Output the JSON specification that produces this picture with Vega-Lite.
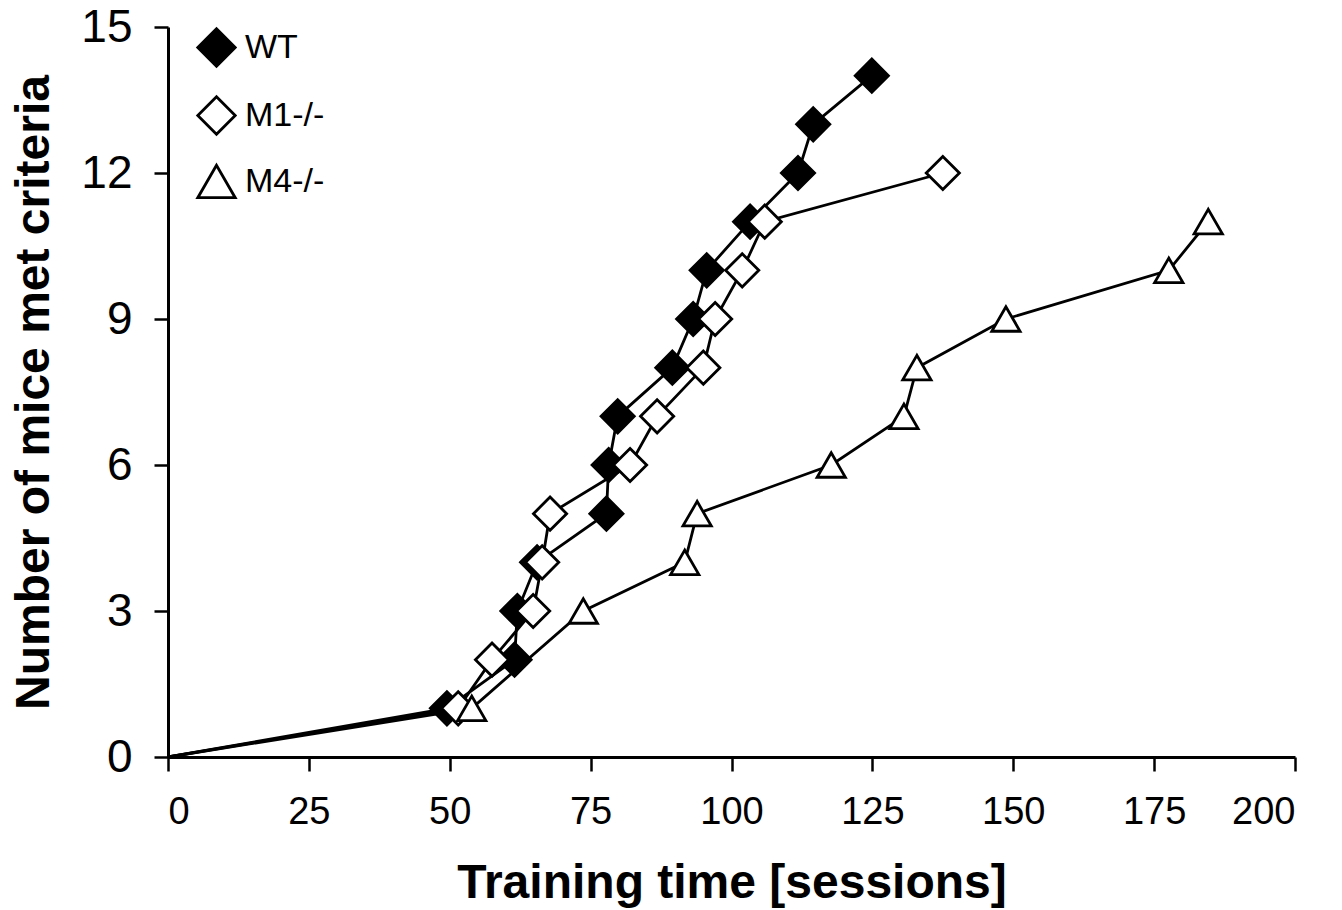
{
  "$schema": "https://vega.github.io/schema/vega-lite/v6.json",
  "width": 1127,
  "height": 730,
  "autosize": {"type": "none"},
  "padding": {"left": 168, "top": 27, "right": 47, "bottom": 153},
  "background": "white",
  "config": {
    "view": {"stroke": null},
    "font": "Liberation Sans",
    "axis": {"grid": false, "domainColor": "black", "domainWidth": 3, "tickColor": "black", "tickWidth": 2.5, "tickSize": 14, "labelColor": "black", "titleColor": "black", "labelFont": "Liberation Sans", "titleFont": "Liberation Sans", "titleFontWeight": "bold"},
    "legend": {"labelFontSize": 34, "labelFont": "Liberation Sans", "labelColor": "black", "symbolSize": 1400, "symbolStrokeWidth": 2.5}
  },
  "datasets": {
    "curves": [
      {"group": "WT", "sessions": 0, "mice": 0},
      {"group": "WT", "sessions": 49.5, "mice": 1},
      {"group": "WT", "sessions": 61.5, "mice": 2},
      {"group": "WT", "sessions": 62, "mice": 3},
      {"group": "WT", "sessions": 65.5, "mice": 4},
      {"group": "WT", "sessions": 77.8, "mice": 5},
      {"group": "WT", "sessions": 78.2, "mice": 6},
      {"group": "WT", "sessions": 79.8, "mice": 7},
      {"group": "WT", "sessions": 89.5, "mice": 8},
      {"group": "WT", "sessions": 93.2, "mice": 9},
      {"group": "WT", "sessions": 95.6, "mice": 10},
      {"group": "WT", "sessions": 103.3, "mice": 11},
      {"group": "WT", "sessions": 111.8, "mice": 12},
      {"group": "WT", "sessions": 114.5, "mice": 13},
      {"group": "WT", "sessions": 124.9, "mice": 14},
      {"group": "M1-/-", "sessions": 0, "mice": 0},
      {"group": "M1-/-", "sessions": 51.5, "mice": 1},
      {"group": "M1-/-", "sessions": 57.5, "mice": 2},
      {"group": "M1-/-", "sessions": 64.8, "mice": 3},
      {"group": "M1-/-", "sessions": 66.4, "mice": 4},
      {"group": "M1-/-", "sessions": 67.8, "mice": 5},
      {"group": "M1-/-", "sessions": 82, "mice": 6},
      {"group": "M1-/-", "sessions": 86.8, "mice": 7},
      {"group": "M1-/-", "sessions": 95, "mice": 8},
      {"group": "M1-/-", "sessions": 97.1, "mice": 9},
      {"group": "M1-/-", "sessions": 101.9, "mice": 10},
      {"group": "M1-/-", "sessions": 105.9, "mice": 11},
      {"group": "M1-/-", "sessions": 137.5, "mice": 12},
      {"group": "M4-/-", "sessions": 0, "mice": 0},
      {"group": "M4-/-", "sessions": 53.9, "mice": 1},
      {"group": "M4-/-", "sessions": 73.7, "mice": 3},
      {"group": "M4-/-", "sessions": 91.7, "mice": 4},
      {"group": "M4-/-", "sessions": 93.9, "mice": 5},
      {"group": "M4-/-", "sessions": 117.7, "mice": 6},
      {"group": "M4-/-", "sessions": 130.6, "mice": 7},
      {"group": "M4-/-", "sessions": 132.9, "mice": 8},
      {"group": "M4-/-", "sessions": 148.7, "mice": 9},
      {"group": "M4-/-", "sessions": 177.6, "mice": 10},
      {"group": "M4-/-", "sessions": 184.6, "mice": 11}
    ]
  },
  "data": {"name": "curves"},
  "encoding": {
    "x": {
      "field": "sessions", "type": "quantitative",
      "scale": {"domain": [0, 200], "nice": false},
      "axis": {"values": [0, 25, 50, 75, 100, 125, 150, 175, 200], "title": "Training time [sessions]", "labelFontSize": 38, "labelPadding": 22, "titleFontSize": 48, "titlePadding": 28}
    },
    "y": {
      "field": "mice", "type": "quantitative",
      "scale": {"domain": [0, 15], "nice": false},
      "axis": {"values": [0, 3, 6, 9, 12, 15], "title": "Number of mice met criteria", "labelFontSize": 46, "labelPadding": 22, "titleFontSize": 48, "titlePadding": 22}
    }
  },
  "layer": [
    {
      "mark": {"type": "line", "color": "black", "strokeWidth": 2.8},
      "encoding": {"detail": {"field": "group", "type": "nominal"}}
    },
    {
      "transform": [{"filter": "datum.mice > 0 && datum.group != 'M4-/-'"}],
      "mark": {"type": "point", "filled": true, "strokeWidth": 2.8, "opacity": 1, "size": 1100},
      "encoding": {
        "shape": {
          "field": "group", "type": "nominal",
          "scale": {"domain": ["WT", "M1-/-", "M4-/-"], "range": ["diamond", "diamond", "triangle-up"]},
          "legend": {"title": null, "orient": "none", "legendX": 28, "legendY": 0, "padding": 0, "labelOffset": 8, "rowPadding": 19, "symbolSize": 1400, "symbolStrokeWidth": 2.8}
        },
        "fill": {
          "field": "group", "type": "nominal",
          "scale": {"domain": ["WT", "M1-/-", "M4-/-"], "range": ["black", "white", "white"]},
          "legend": {"title": null, "orient": "none", "legendX": 28, "legendY": 0, "padding": 0, "labelOffset": 8, "rowPadding": 19, "symbolSize": 1400, "symbolStrokeWidth": 2.8}
        },
        "stroke": {
          "field": "group", "type": "nominal",
          "scale": {"domain": ["WT", "M1-/-", "M4-/-"], "range": ["black", "black", "black"]},
          "legend": {"title": null, "orient": "none", "legendX": 28, "legendY": 0, "padding": 0, "labelOffset": 8, "rowPadding": 19, "symbolSize": 1400, "symbolStrokeWidth": 2.8}
        }
      }
    },
    {
      "transform": [{"filter": "datum.mice > 0 && datum.group == 'M4-/-'"}],
      "mark": {"type": "point", "filled": true, "strokeWidth": 2.8, "opacity": 1, "size": 800},
      "encoding": {
        "shape": {"field": "group", "type": "nominal"},
        "fill": {"field": "group", "type": "nominal"},
        "stroke": {"field": "group", "type": "nominal"}
      }
    }
  ]
}
